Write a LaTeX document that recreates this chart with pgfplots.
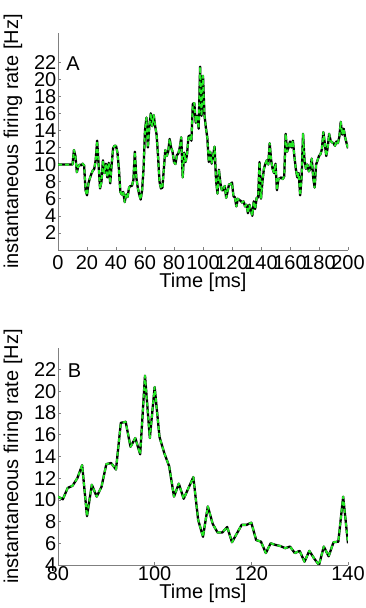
\documentclass[border=0pt]{standalone}
\usepackage{fontspec}
\setmainfont{Liberation Sans}
\usepackage{pgfplots}
\usepackage{pgfplotstable}
\pgfplotsset{compat=1.18}
\pgfplotstableread{
t r
0 10
1 10
2 10
3 10
4 10
5 10
6 10
7 10
8 10
9 10
10 10
11 11.7
12 11.0
13 9.1
14 9.8
15 10.0
16 9.9
17 10.1
18 9.9
19 7.0
20 6.4
21 7.8
22 8.4
23 8.9
24 9.3
25 9.5
26 10.5
27 12.8
28 10.0
29 7.2
30 8.0
31 10.5
32 9.0
33 10.1
34 8.5
35 10.2
36 7.8
37 10.0
38 11.9
39 12.2
40 12.2
41 11.4
42 9.5
43 6.8
44 6.5
45 6.8
46 5.6
47 6.5
48 6.2
49 7.3
50 7.5
51 7.5
52 8.2
53 11.5
54 8.5
55 7.3
56 6.5
57 5.9
58 7.0
59 9.5
60 14.0
61 15.5
62 12.0
63 14.5
64 16.0
65 14.5
66 15.8
67 14.5
68 13.5
69 11.0
70 8.0
71 7.2
72 7.3
73 9.5
74 11.7
75 11.0
76 11.5
77 13.0
78 12.0
79 11.5
80 10.3
81 10.06
82 11.1
83 11.3
84 12.0
85 13.2
86 8.5
87 11.4
88 10.3
89 11.2
90 13.3
91 13.4
92 12.8
93 17.1
94 17.2
95 14.9
96 15.7
97 14.2
98 21.45
99 15.7
100 20.4
101 15.8
102 14.3
103 13.1
104 10.3
105 11.5
106 10.1
107 11.1
108 12.1
109 8.15
110 6.6
111 9.4
112 7.8
113 7.0
114 7.0
115 7.5
116 6.1
117 6.9
118 7.7
119 7.7
120 7.9
121 6.3
122 6.15
123 5.1
124 6.0
125 5.85
126 5.75
127 5.55
128 5.7
129 5.1
130 5.3
131 4.3
132 5.3
133 4.6
134 4.0
135 5.7
136 4.8
137 6.1
138 6.15
139 10.3
140 6.0
141 8.0
142 9.5
143 10.1
144 10.5
145 10.0
146 12.5
147 10.5
148 9.5
149 9.0
150 10.1
151 7.0
152 8.3
153 8.4
154 8.5
155 8.3
156 8.6
157 13.6
158 11.5
159 12.0
160 12.7
161 12.0
162 12.8
163 11.0
164 9.5
165 8.5
166 9.0
167 6.4
168 8.5
169 13.6
170 10.5
171 9.5
172 10.0
173 9.2
174 9.5
175 10.7
176 8.5
177 7.3
178 10.0
179 10.5
180 11.0
181 11.2
182 11.8
183 13.8
184 12.5
185 11.0
186 12.0
187 13.6
188 12.8
189 12.6
190 12.5
191 12.2
192 12.7
193 12.5
194 13.2
195 15.0
196 13.5
197 14.2
198 13.2
199 12.5
200 11.9
}\ratedata
\definecolor{mgreen}{rgb}{0.15,0.92,0.15}
\definecolor{axgray}{gray}{0.5}
\pgfplotsset{panel/.style={
  scale only axis, width=290pt, height=217pt,
  axis x line*=bottom, axis y line*=left,
  axis line style={-, axgray, line width=0.8pt},
  every tick/.style={axgray, line width=0.6pt},
  tick align=inside, major tick length=3pt,
  font=\fontsize{20}{22}\selectfont,
  /pgf/number format/assume math mode=true,
  ylabel={instantaneous firing rate [Hz]},
  xlabel={Time [ms]},
  every axis y label/.style={at={(axis description cs:-0.155,0.5)}, rotate=90, anchor=center},
  yticklabel style={inner sep=1.5pt},
  clip=true,
}}
\begin{document}
\begin{tikzpicture}
\useasboundingbox (0,0) rectangle (366pt,608pt);
\begin{axis}[panel, at={(58pt,358pt)}, anchor=south west,
  xmin=0, xmax=200, ymin=0, ymax=25.4,
  xtick={0,20,...,200}, ytick={2,4,...,22},
  xticklabel style={yshift=-2pt},
  every axis x label/.style={at={(axis description cs:0.5,-0.147)}, anchor=center}]
\addplot[black, line width=2.3pt, line join=round] table[x=t,y=r]{\ratedata};
\addplot[mgreen, line width=1.9pt, line join=round, dash pattern=on 4pt off 3pt] table[x=t,y=r]{\ratedata};
\node at (axis cs:10.3,21.8) {A};
\end{axis}
\begin{axis}[panel, at={(58pt,43pt)}, anchor=south west,
  xmin=80, xmax=140, ymin=4, ymax=24,
  xtick={80,100,120,140}, ytick={4,6,...,22},
  xticklabel style={inner sep=1pt},
  every axis x label/.style={at={(axis description cs:0.5,-0.131)}, anchor=center}]
\addplot[black, line width=2.3pt, line join=round, restrict x to domain=80:140] table[x=t,y=r]{\ratedata};
\addplot[mgreen, line width=1.9pt, line join=round, dash pattern=on 4pt off 3pt, restrict x to domain=80:140] table[x=t,y=r]{\ratedata};
\node at (axis cs:83.4,21.96) {B};
\end{axis}
\end{tikzpicture}
\end{document}
